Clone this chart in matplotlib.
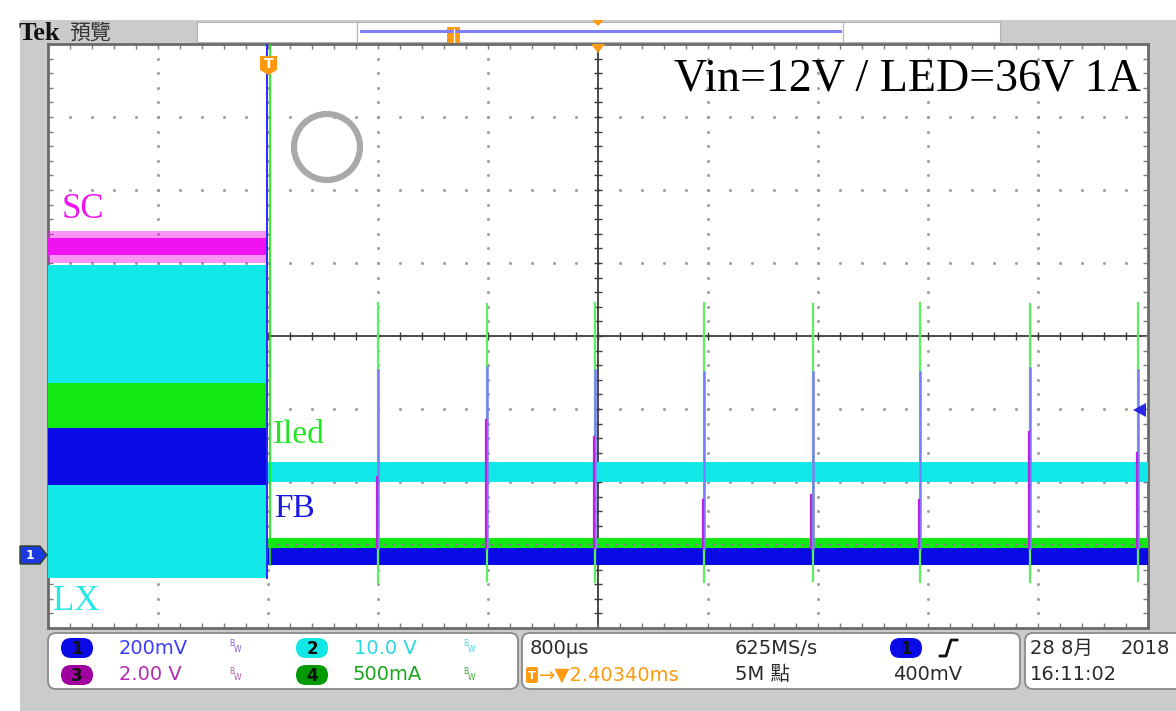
import numpy as np
import matplotlib.pyplot as plt
from matplotlib.patches import Rectangle, FancyBboxPatch, Circle, Polygon

plt.rcParams['font.family'] = ['DejaVu Sans', 'Noto Sans CJK TC']

# scope screen: 10 x 8 divisions, values in divisions
trigger_x = 2.0
# bands before the trigger (top, bottom)
sc_pre = [1.34, 1.11]
sc_pre_fuzz = [1.44, 1.00]
lx_pre = [0.97, -3.32]
iled_pre = [-0.64, -1.26]
fb_pre = [-1.26, -2.04]
# bands after the trigger (top, bottom)
lx_post = [-1.73, -2.00]
iled_post = [-2.77, -2.92]
fb_post = [-2.90, -3.14]
sc_post = -2.85

# pulses after the trigger
spike_x = [3.00, 3.99, 4.97, 5.96, 6.95, 7.93, 8.93, 9.91]
iled_spike_top = [0.45, 0.44, 0.45, 0.45, 0.44, 0.45, 0.44, 0.45]
iled_spike_bot = [-3.37, -3.36, -3.37, -3.37, -3.36, -3.37, -3.37, -3.36]
fb_spike_top = [-0.47, -0.42, -0.47, -0.49, -0.49, -0.49, -0.44, -0.47]
sc_spike_top = [-1.93, -1.15, -1.38, -2.25, -2.18, -2.25, -1.32, -1.60]

ch_colors = {'1': '#0a0ae6', '2': '#12e6e6', '3': '#a000a0', '4': '#009a00'}
cyan = '#12e8e8'
magenta = '#f012f0'
green = '#12e812'
blue = '#0a0ae6'

fig = plt.figure(figsize=(11.76, 7.11), dpi=100)

# background frame (pixel coords)
bg = fig.add_axes([0, 0, 1, 1])
bg.set_xlim(0, 1176)
bg.set_ylim(711, 0)
bg.axis('off')
bg.add_patch(Rectangle((20, 20), 1156, 691, color='#cbcbcb', lw=0))
for x0, x1 in [(197, 357), (357, 843), (843, 1000)]:
    bg.add_patch(Rectangle((x0, 22), x1 - x0, 20, facecolor='white', edgecolor='#b4b4b4', lw=0.8))
bg.plot([361, 840], [31, 31], color='#7f7fff', lw=2.2)
bg.add_patch(Rectangle((447, 27), 13, 17, color='#ff9a10', lw=0))
bg.plot([453.5, 453.5], [29, 42], color='white', lw=1)
bg.add_patch(Polygon([(592, 20), (604, 20), (598, 26)], color='#ff9a10', lw=0))
bg.text(19, 33, 'Tek', fontsize=19, fontweight='bold', family='Liberation Serif', va='center', color='#111111')
bg.text(69, 33, '預覽', fontsize=15, family='Noto Sans CJK TC', va='center', color='#333333')

# bottom info boxes
for x0, w in [(48, 470), (522, 498), (1025, 170)]:
    bg.add_patch(FancyBboxPatch((x0, 633), w, 56, boxstyle='round,pad=0,rounding_size=8',
                                facecolor='white', edgecolor='#8a8a8a', lw=1.3))


def badge(x, y, color, label):
    bg.add_patch(FancyBboxPatch((x - 16, y - 10), 32, 20, boxstyle='round,pad=0,rounding_size=10',
                                facecolor=color, edgecolor='none'))
    bg.text(x, y + 1, label, fontsize=12, fontweight='bold', ha='center', va='center', color='#111111')


def bw(x, y, color):
    bg.text(x, y - 4, 'B', fontsize=5.5, color=color, ha='center', va='center')
    bg.text(x + 5, y + 2, 'W', fontsize=5.5, color=color, ha='center', va='center')


r1, r2 = 648, 675
fs = 14
badge(77, r1, ch_colors['1'], '1')
badge(77, r2, ch_colors['3'], '3')
badge(312, r1, ch_colors['2'], '2')
badge(312, r2, ch_colors['4'], '4')
bg.text(119, r1, '200mV', fontsize=fs, color='#3b3bff', va='center')
bg.text(119, r2, '2.00 V', fontsize=fs, color='#b02cb0', va='center')
bg.text(354, r1, '10.0 V', fontsize=fs, color='#2ad8e0', va='center')
bg.text(353, r2, '500mA', fontsize=fs, color='#1aa61a', va='center')
bw(232, r1, '#8a5ae0')
bw(232, r2, '#b05ab0')
bw(466, r1, '#4ad8e0')
bw(466, r2, '#3aa63a')

bg.text(530, r1, '800µs', fontsize=fs, color='#2a2a2a', va='center')
bg.add_patch(FancyBboxPatch((526, r2 - 8), 12, 16, boxstyle='round,pad=0,rounding_size=2',
                            facecolor='#ff9a10', edgecolor='none'))
bg.text(532, r2 + 1, 'T', fontsize=8, fontweight='bold', color='white', ha='center', va='center')
bg.text(539, r2, '→▼2.40340ms', fontsize=fs, color='#ff9a10', va='center')
bg.text(735, r1, '625MS/s', fontsize=fs, color='#2a2a2a', va='center')
bg.text(735, r2, '5M 點', fontsize=fs, color='#2a2a2a', va='center')
badge(906, r1, ch_colors['1'], '1')
bg.plot([940, 946, 951, 957], [656, 656, 640, 640], color='#111111', lw=2)
bg.text(893, r2, '400mV', fontsize=fs, color='#2a2a2a', va='center')
bg.text(1030, r1, '28 8月', fontsize=fs, color='#2a2a2a', va='center')
bg.text(1121, r1, '2018', fontsize=fs, color='#2a2a2a', va='center')
bg.text(1030, r2, '16:11:02', fontsize=fs, color='#2a2a2a', va='center')

# scope screen
ax = fig.add_axes([48 / 1176, (711 - 628) / 711, 1100 / 1176, 584 / 711])
ax.set_xlim(0, 10)
ax.set_ylim(-4, 4)
ax.set_xticks([])
ax.set_yticks([])
ax.set_facecolor('white')
for s in ax.spines.values():
    s.set_color('#6a6a6a')
    s.set_linewidth(2)

fine_x = np.arange(0, 10.01, 0.2)
fine_y = np.arange(-4, 4.01, 0.2)
for gx in [1, 2, 3, 4, 6, 7, 8, 9]:
    ax.plot(np.full(len(fine_y), gx), fine_y, ls='none', marker='s', ms=1.0, color='#9a9a9a', zorder=1)
for gy in [-3, -2, -1, 1, 2, 3]:
    ax.plot(fine_x, np.full(len(fine_x), gy), ls='none', marker='s', ms=1.0, color='#9a9a9a', zorder=1)
ax.axhline(0, color='#3a3a3a', lw=1.3, zorder=2)
ax.axvline(5, color='#3a3a3a', lw=1.3, zorder=2)
ax.plot(fine_x, np.zeros(len(fine_x)), ls='none', marker='|', ms=6, mew=1, color='#3a3a3a', zorder=2)
ax.plot(np.full(len(fine_y), 5), fine_y, ls='none', marker='_', ms=6, mew=1, color='#3a3a3a', zorder=2)
for yy in [4, -4]:
    ax.plot(fine_x, np.full(len(fine_x), yy), ls='none', marker='|', ms=7, mew=1, color='#7a7a7a', zorder=2)
for xx in [0, 10]:
    ax.plot(np.full(len(fine_y), xx), fine_y, ls='none', marker='_', ms=7, mew=1, color='#7a7a7a', zorder=2)

# traces before trigger
pre = [0, trigger_x]
ax.fill_between(pre, lx_pre[1], lx_pre[0], color=cyan, lw=0, zorder=3)
ax.fill_between(pre, sc_pre_fuzz[1], sc_pre_fuzz[0], color=magenta, alpha=0.45, lw=0, zorder=3)
ax.fill_between(pre, sc_pre[1], sc_pre[0], color=magenta, lw=0, zorder=3)
ax.fill_between(pre, iled_pre[1], iled_pre[0], color=green, lw=0, zorder=4)
ax.fill_between(pre, fb_pre[1], fb_pre[0], color=blue, lw=0, zorder=4)

# trigger edge
ax.plot([trigger_x - 0.01, trigger_x - 0.01], [4, lx_pre[1]], color='#2a2aff', lw=1.4, zorder=5)
ax.plot([trigger_x + 0.015, trigger_x + 0.015], [4, fb_post[1]], color=green, lw=1.2, zorder=5)

# traces after trigger
post = [trigger_x, 10]
ax.fill_between(post, lx_post[1], lx_post[0], color=cyan, lw=0, zorder=3)
ax.fill_between(post, iled_post[1], iled_post[0], color=green, lw=0, zorder=4)
ax.plot(post, [sc_post, sc_post], color=magenta, lw=0.8, ls=(0, (2, 6)), zorder=4)
ax.fill_between(post, fb_post[1], fb_post[0], color=blue, lw=0, zorder=4)

for sx, it, ib, ft, st in zip(spike_x, iled_spike_top, iled_spike_bot, fb_spike_top, sc_spike_top):
    ax.plot([sx, sx], [ib, it], color='#5cf05c', lw=1.6, zorder=6)
    ax.plot([sx, sx], [fb_post[0], ft], color='#7b7bff', lw=1.8, zorder=7)
    ax.plot([sx - 0.01, sx - 0.01], [fb_post[0], st], color='#c020e0', lw=1.6, zorder=8)

# overlay marks and labels (pixel coords)
ov = fig.add_axes([0, 0, 1, 1])
ov.set_xlim(0, 1176)
ov.set_ylim(711, 0)
ov.axis('off')
ov.add_patch(Polygon([(260, 56), (277, 56), (277, 70), (268.5, 75), (260, 70)], color='#ff9a10', lw=0))
ov.text(268.5, 64, 'T', fontsize=10, fontweight='bold', color='white', ha='center', va='center')
ov.add_patch(Polygon([(591, 44), (605, 44), (598, 53)], color='#ff9a10', lw=0))
ov.add_patch(Polygon([(20, 546), (40, 546), (47, 555), (40, 564), (20, 564)],
                     facecolor='#1a3ae0', edgecolor='#304020', lw=1))
ov.text(30, 555.5, '1', fontsize=9, fontweight='bold', color='white', ha='center', va='center')
ov.add_patch(Polygon([(1133, 410), (1146, 403), (1146, 417)], color='#2a2ae6', lw=0))
ov.add_patch(Circle((327, 147), 33, fill=False, edgecolor='#a9a9a9', lw=4.5))

serif = 'Liberation Serif'
ov.text(62, 210, 'SC', fontsize=25, family=serif, color=magenta, va='center')
ov.text(273, 435, 'Iled', fontsize=24, family=serif, color='#22e622', va='center')
ov.text(274, 509, 'FB', fontsize=24, family=serif, color='#1818e0', va='center')
ov.text(53, 602, 'LX', fontsize=25, family=serif, color='#22e8e8', va='center')
ov.text(1141, 79, 'Vin=12V / LED=36V 1A', fontsize=33, family=serif, color='black',
        ha='right', va='center')

fig.savefig('out.png', dpi=100, facecolor='white')
